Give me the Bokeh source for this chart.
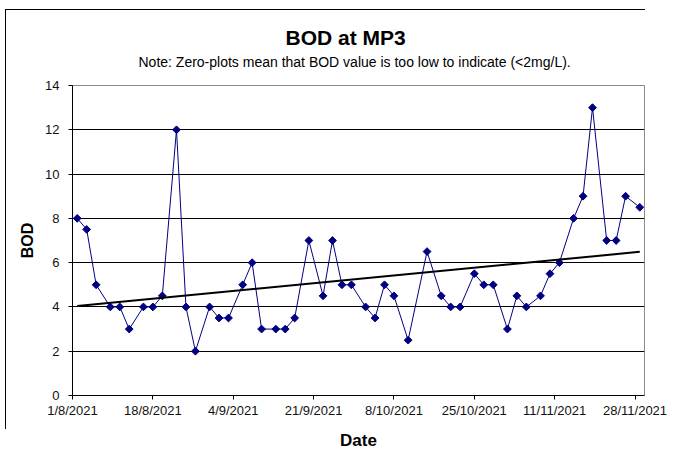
import numpy as np
import pandas as pd
from bokeh.plotting import figure
from bokeh.models import FixedTicker, Title, Range1d, ColumnDataSource, InlineStyleSheet
from bokeh.embed import file_html
from bokeh.resources import INLINE

# ---- data ----
dates = ["2/8/2021", "4/8/2021", "6/8/2021", "9/8/2021", "11/8/2021", "13/8/2021",
         "16/8/2021", "18/8/2021", "20/8/2021", "23/8/2021", "25/8/2021", "27/8/2021",
         "30/8/2021", "1/9/2021", "3/9/2021", "6/9/2021", "8/9/2021", "10/9/2021",
         "13/9/2021", "15/9/2021", "17/9/2021", "20/9/2021", "23/9/2021", "25/9/2021",
         "27/9/2021", "29/9/2021", "2/10/2021", "4/10/2021", "6/10/2021", "8/10/2021",
         "11/10/2021", "15/10/2021", "18/10/2021", "20/10/2021", "22/10/2021", "25/10/2021",
         "27/10/2021", "29/10/2021", "1/11/2021", "3/11/2021", "5/11/2021", "8/11/2021",
         "10/11/2021", "12/11/2021", "15/11/2021", "17/11/2021", "19/11/2021", "22/11/2021",
         "24/11/2021", "26/11/2021", "29/11/2021"]
bod = [8, 7.5, 5, 4, 4, 3,
       4, 4, 4.5, 12, 4, 2,
       4, 3.5, 3.5, 5, 6, 3,
       3, 3, 3.5, 7, 4.5, 7,
       5, 5, 4, 3.5, 5, 4.5,
       2.5, 6.5, 4.5, 4, 4, 5.5,
       5, 5, 3, 4.5, 4, 4.5,
       5.5, 6, 8, 9, 13, 7,
       7, 9, 8.5]
x_tick_labels = ["1/8/2021", "18/8/2021", "4/9/2021", "21/9/2021", "8/10/2021",
                 "25/10/2021", "11/11/2021", "28/11/2021"]
y_ticks = [0, 2, 4, 6, 8, 10, 12, 14]
x_start, x_end = "1/8/2021", "30/11/2021"
title_text = "BOD at MP3"
subtitle_text = "Note: Zero-plots  mean that BOD value  is too low to indicate (<2mg/L)."

# ---- prep ----
fmt = "%d/%m/%Y"
dt = pd.to_datetime(dates, format=fmt)
ms = (dt.astype("int64") // 10**6).astype(float)
src = ColumnDataSource(dict(x=dt, y=bod))

tick_dt = pd.to_datetime(x_tick_labels, format=fmt)
tick_ms = [float(v) for v in (tick_dt.astype("int64") // 10**6)]

# linear trend (least squares) over the data
coef = np.polyfit(np.array(ms), np.array(bod, dtype=float), 1)
trend_x = [dt[0], dt[-1]]
trend_y = [float(np.polyval(coef, ms[0])), float(np.polyval(coef, ms[-1]))]

FONT = "Liberation Sans"

# chart-area border: only the left and top edges are inside the picture
border_css = InlineStyleSheet(css="""
:host::after {
  content: ""; position: absolute; left: 5px; top: 9px; width: 640px; height: 420px;
  background:
    linear-gradient(#000, #000) left top / 1px 100% no-repeat,
    linear-gradient(#000, #000) left top / 100% 1px no-repeat;
  pointer-events: none; z-index: 10;
}
""")

p = figure(width=668, height=452, output_backend="svg", toolbar_location=None,
           x_axis_type="datetime",
           x_range=Range1d(pd.to_datetime(x_start, format=fmt), pd.to_datetime(x_end, format=fmt)),
           y_range=Range1d(0, 14),
           min_border_left=72, min_border_right=24, min_border_top=85, min_border_bottom=57,
           stylesheets=[border_css])

# main title (outer)
p.title.text = title_text
p.title.align = "left"
p.title.offset = 213
p.title.text_font = FONT
p.title.text_font_size = "21px"
p.title.text_font_style = "bold"
p.title.text_color = "#000000"
p.title.standoff = -25

# subtitle (closest to frame)
sub = Title(text=subtitle_text, align="center", text_font=FONT, text_font_size="14px",
            text_font_style="normal", text_color="#000000", standoff=31)
p.add_layout(sub, "above")

p.background_fill_color = "white"
p.border_fill_color = "white"
p.outline_line_color = "#8c8c8c"
p.outline_line_width = 1

# axes
p.xaxis.ticker = FixedTicker(ticks=tick_ms)
p.xaxis.major_label_overrides = {t: l for t, l in zip(tick_ms, x_tick_labels)}
p.yaxis.ticker = FixedTicker(ticks=y_ticks)
for ax in (p.xaxis[0], p.yaxis[0]):
    ax.axis_line_color = "black"
    ax.axis_line_width = 1
    ax.major_tick_line_color = "black"
    ax.major_tick_in = 0
    ax.major_tick_out = 4
    ax.minor_tick_line_color = None
    ax.major_label_text_font = FONT
    ax.major_label_text_font_size = "13px"
    ax.major_label_text_color = "#111111"
    ax.axis_label_text_font = FONT
    ax.axis_label_text_font_style = "bold"
    ax.axis_label_text_color = "#000000"
p.xaxis.axis_label = "Date"
p.xaxis.axis_label_text_font_size = "17px"
p.xaxis.major_label_standoff = 3
p.xaxis.axis_label_standoff = 10
p.yaxis.axis_label = "BOD"
p.yaxis.axis_label_text_font_size = "16px"
p.yaxis.major_label_standoff = 9
p.yaxis.axis_label_standoff = 6

# grid
p.xgrid.grid_line_color = None
p.ygrid.ticker = FixedTicker(ticks=y_ticks[1:-1])
p.ygrid.grid_line_color = "black"
p.ygrid.grid_line_width = 1

# series
p.line("x", "y", source=src, line_color="#000080", line_width=1)
p.scatter("x", "y", source=src, marker="square", angle=np.pi / 4, size=5.5,
          fill_color="#000080", line_color="#000080")
p.line(trend_x, trend_y, line_color="black", line_width=2)

html = file_html(p, INLINE)
open("out.html", "w").write(html)
